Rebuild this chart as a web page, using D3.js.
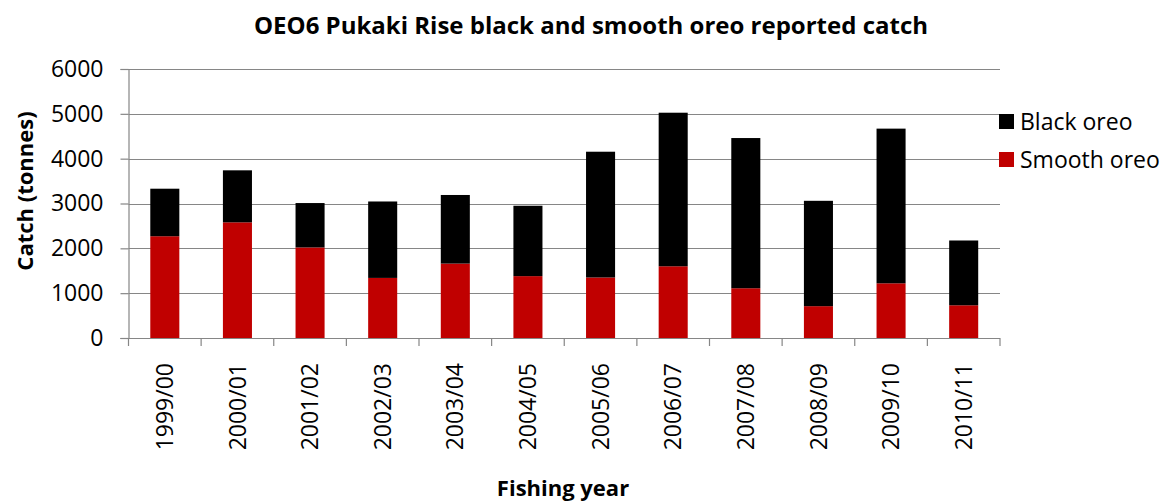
<!DOCTYPE html>
<html>
<head>
<meta charset="utf-8">
<script src="https://cdn.jsdelivr.net/npm/d3@7"></script>
<style>
  body { margin: 0; background: #fff; }
  svg { font-family: "Open Sans", sans-serif; }
</style>
</head>
<body>
<div id="chart"></div>
<script>
var years = ['1999/00', '2000/01', '2001/02', '2002/03', '2003/04', '2004/05',
	'2005/06', '2006/07', '2007/08', '2008/09', '2009/10', '2010/11'];
var smoothOreo = [2270, 2580, 2020, 1340, 1660, 1380, 1350, 1600, 1110, 710, 1220, 730];
var blackOreo = [1060, 1160, 990, 1705, 1530, 1570, 2805, 3425, 3350, 2350, 3450, 1445];
var yTicks = [0, 1000, 2000, 3000, 4000, 5000, 6000];

var seriesNames = ['Smooth oreo', 'Black oreo'];
var colors = { 'Smooth oreo': '#c00000', 'Black oreo': '#000000' };

var width = 1169,
	height = 504;
var plot = { left: 128.5, right: 1000, top: 69, bottom: 338 };

var rows = years.map((y, i) => ({ year: y, 'Smooth oreo': smoothOreo[i], 'Black oreo': blackOreo[i] }));
var stacked = d3.stack().keys(seriesNames)(rows);

var x = d3.scaleBand()
	.domain(years)
	.range([plot.left, plot.right])
	.paddingInner(0.6)
	.paddingOuter(0.3);

var y = d3.scaleLinear()
	.domain([0, 6000])
	.range([plot.bottom, plot.top]);

var svg = d3.select('#chart')
	.append('svg')
	.attr('width', width)
	.attr('height', height);

// gridlines
svg.append('g')
	.selectAll('line')
	.data(yTicks.slice(1))
	.enter()
	.append('line')
	.attr('x1', plot.left)
	.attr('x2', plot.right)
	.attr('y1', d => Math.round(y(d)) + 0.5)
	.attr('y2', d => Math.round(y(d)) + 0.5)
	.attr('stroke', '#868686')
	.attr('stroke-width', 1.2)

// bars
svg.append('g')
	.selectAll('g')
	.data(stacked)
	.enter()
	.append('g')
	.attr('fill', d => colors[d.key])
	.selectAll('rect')
	.data(d => d)
	.enter()
	.append('rect')
	.attr('x', d => x(d.data.year))
	.attr('width', x.bandwidth())
	.attr('y', d => y(d[1]))
	.attr('height', d => y(d[0]) - y(d[1]))

// y axis
var yAxis = svg.append('g')
	.attr('transform', `translate(${plot.left}, 0)`)
	.call(d3.axisLeft(y).tickValues(yTicks).tickSize(8).tickPadding(17).tickFormat(d3.format('d')))
yAxis.select('.domain').attr('stroke', '#868686').attr('stroke-width', 1.2)
yAxis.selectAll('.tick line').attr('stroke', '#868686').attr('stroke-width', 1.2)
yAxis.selectAll('.tick text')
	.attr('font-size', 23)
	.attr('font-family', '"Open Sans", sans-serif')
	.attr('fill', '#000')

// x axis
var xAxisG = svg.append('g')
	.attr('transform', `translate(0, ${plot.bottom})`)
xAxisG.append('line')
	.attr('x1', plot.left - 8)
	.attr('x2', plot.right)
	.attr('y1', 0.5)
	.attr('y2', 0.5)
	.attr('stroke', '#868686')
	.attr('stroke-width', 1.2)
var step = x.step();
xAxisG.selectAll('.xtick')
	.data(d3.range(years.length + 1))
	.enter()
	.append('line')
	.attr('x1', i => plot.left + i * step)
	.attr('x2', i => plot.left + i * step)
	.attr('y1', 0)
	.attr('y2', 8)
	.attr('stroke', '#868686')
	.attr('stroke-width', 1.2)
xAxisG.selectAll('.xlabel')
	.data(years)
	.enter()
	.append('text')
	.attr('transform', d => `translate(${x(d) + x.bandwidth() / 2}, 25) rotate(-90)`)
	.attr('text-anchor', 'end')
	.attr('dy', '0.35em')
	.attr('font-size', 23)
	.text(d => d)

// titles
svg.append('text')
	.attr('x', 591)
	.attr('y', 34)
	.attr('text-anchor', 'middle')
	.attr('font-size', 24)
	.attr('font-weight', 'bold')
	.text('OEO6 Pukaki Rise black and smooth oreo reported catch')

svg.append('text')
	.attr('transform', 'translate(33, 191) rotate(-90)')
	.attr('text-anchor', 'middle')
	.attr('font-size', 22)
	.attr('font-weight', 'bold')
	.text('Catch (tonnes)')

svg.append('text')
	.attr('x', 563)
	.attr('y', 496)
	.attr('text-anchor', 'middle')
	.attr('font-size', 22)
	.attr('font-weight', 'bold')
	.text('Fishing year')

// legend
var legend = svg.append('g')
	.selectAll('g')
	.data(['Black oreo', 'Smooth oreo'])
	.enter()
	.append('g')
	.attr('transform', (d, i) => `translate(999, ${114 + i * 38})`)
legend.append('rect')
	.attr('width', 15)
	.attr('height', 15)
	.attr('fill', d => colors[d])
legend.append('text')
	.attr('x', 21)
	.attr('y', 7.5)
	.attr('dy', '0.35em')
	.attr('font-size', 23)
	.text(d => d)
</script>
</body>
</html>
